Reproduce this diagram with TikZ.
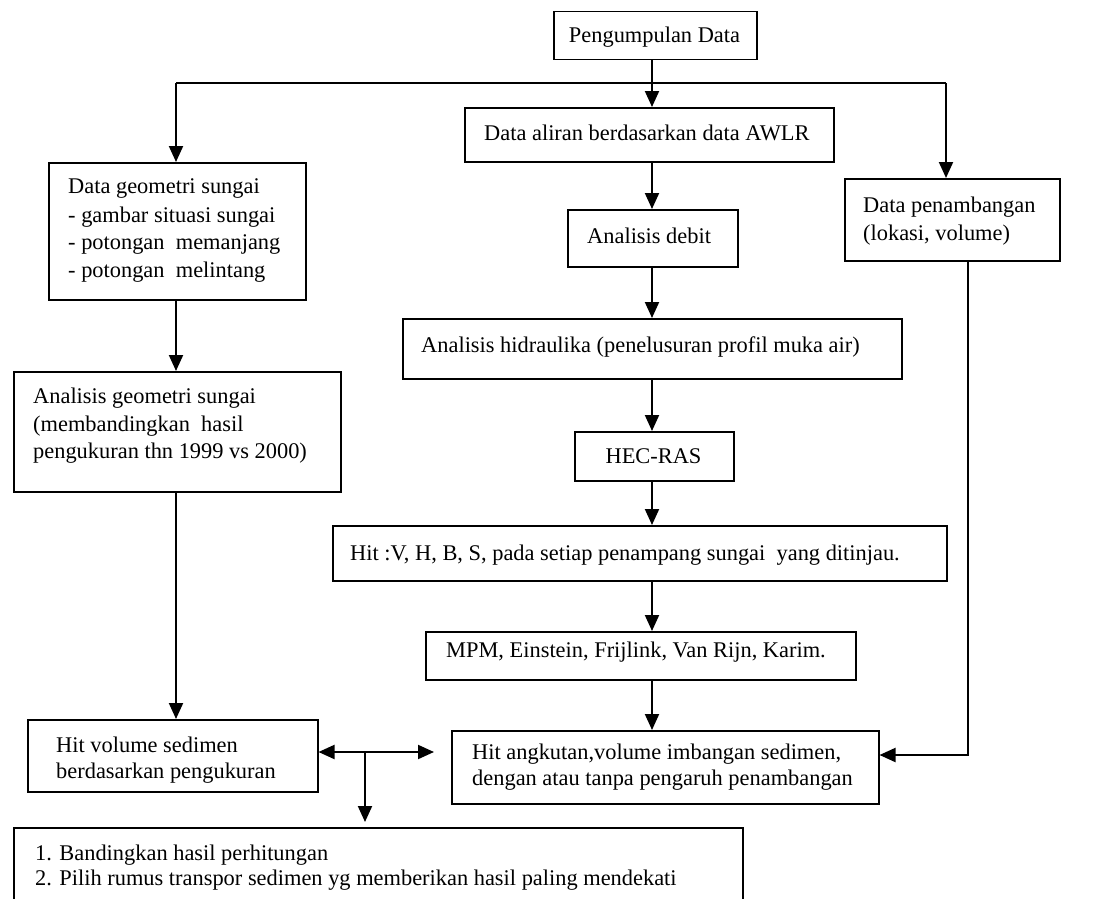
\documentclass[tikz,border=0pt]{standalone}
\usepackage{fontspec}
\setmainfont{Liberation Serif}
\usetikzlibrary{arrows.meta}
\begin{document}
\begin{tikzpicture}[x=1pt,y=-1pt,
  box/.style={draw, line width=1.5pt, inner sep=0pt, anchor=north west},
  txt/.style={inner sep=0pt, anchor=base west, font=\fontsize{22.4}{28}\selectfont},
  ctxt/.style={txt, anchor=base},
  conn/.style={line width=2pt},
  tip/.tip={Triangle[width=14pt,length=16pt]},
  arr/.style={conn, -tip}]
\clip (0,0) rectangle (1116,899);
\fill[white] (0,0) rectangle (1116,899);
% boxes
\node[box, minimum width=203pt, minimum height=48pt] (pd) at (553,11) {};
\node[box, minimum width=369pt, minimum height=54pt] (da) at (464,107) {};
\node[box, minimum width=257pt, minimum height=137pt] (dg) at (48,162) {};
\node[box, minimum width=215pt, minimum height=82pt] (pen) at (844,178) {};
\node[box, minimum width=170pt, minimum height=57pt] (ad) at (567,209) {};
\node[box, minimum width=499pt, minimum height=60pt] (ah) at (402,318) {};
\node[box, minimum width=327pt, minimum height=120pt] (ag) at (13,371) {};
\node[box, minimum width=159pt, minimum height=49pt] (hec) at (574,431) {};
\node[box, minimum width=614pt, minimum height=55pt] (hit) at (332,525) {};
\node[box, minimum width=430pt, minimum height=48pt] (mpm) at (425,631) {};
\node[box, minimum width=290pt, minimum height=72pt] (hv) at (27,719) {};
\node[box, minimum width=427pt, minimum height=73pt] (ha) at (451,730) {};
\node[box, minimum width=729pt, minimum height=100pt] (bt) at (13,827) {};
% texts
\node[ctxt] (pdt) at (654.5,43) {Pengumpulan Data};
\node[txt] (dat) at (484,140) {Data aliran berdasarkan data AWLR};
\node[txt] (dg1) at (68,193) {Data geometri sungai};
\node[txt] (dg2) at (68,222) {- gambar situasi sungai};
\node[txt] (dg3) at (68,249) {- potongan\ \ memanjang};
\node[txt] (dg4) at (68,277) {- potongan\ \ melintang};
\node[txt] (pe1) at (863,212) {Data penambangan};
\node[txt] (pe2) at (863,240) {(lokasi, volume)};
\node[txt] (adt) at (587,243) {Analisis debit};
\node[txt] (aht) at (421,352) {Analisis hidraulika (penelusuran profil muka air)};
\node[txt] (ag1) at (33,403) {Analisis geometri sungai};
\node[txt] (ag2) at (33,431) {(membandingkan\ \ hasil};
\node[txt] (ag3) at (33,458) {pengukuran thn 1999 vs 2000)};
\node[ctxt] (hect) at (653.5,463) {HEC-RAS};
\node[txt] (hitt) at (350,560) {Hit :V, H, B, S, pada setiap penampang sungai\ \ yang ditinjau.};
\node[txt] (mpmt) at (446,657) {MPM, Einstein, Frijlink, Van Rijn, Karim.};
\node[txt] (hv1) at (56,752) {Hit volume sedimen};
\begin{scope}
\clip (27,719) rectangle (317,782);
\node[txt] (hv2) at (56,778) {berdasarkan pengukuran};
\end{scope}
\node[txt] (ha1) at (472,759) {Hit angkutan,volume imbangan sedimen,};
\begin{scope}
\clip (451,730) rectangle (878,791);
\node[txt] (ha2) at (472,785) {dengan atau tanpa pengaruh penambangan};
\end{scope}
\node[txt] (bt1) at (35,860) {1. Bandingkan hasil perhitungan};
\node[txt] (bt2) at (35,885) {2. Pilih rumus transpor sedimen yg memberikan hasil paling mendekati};
% connectors
\coordinate (mx) at (652,83);
\coordinate (jl) at (176,83);
\coordinate (jr) at (946,83);
\draw[conn] (jl) -- (jr);
\draw[arr] (mx |- pd.south) -- (mx |- da.north);
\draw[arr] (jl) -- (jl |- dg.north);
\draw[arr] (jr) -- (jr |- pen.north);
\draw[arr] (mx |- da.south) -- (mx |- ad.north);
\draw[arr] (mx |- ad.south) -- (mx |- ah.north);
\draw[arr] (mx |- ah.south) -- (mx |- hec.north);
\draw[arr] (mx |- hec.south) -- (mx |- hit.north);
\draw[arr] (mx |- hit.south) -- (mx |- mpm.north);
\draw[arr] (mx |- mpm.south) -- (mx |- ha.north);
\draw[arr] (jl |- dg.south) -- (jl |- ag.north);
\draw[arr] (jl |- ag.south) -- (jl |- hv.north);
\coordinate (rt) at (968,755);
\draw[arr] (rt |- pen.south) -- (rt) -- (rt -| ha.east);
\coordinate (dm) at (365,752);
\coordinate (dr) at (434,752);
\draw[conn, tip-tip] (dm -| hv.east) -- (dr);
\draw[arr, shorten >=5pt] (dm) -- (dm |- bt.north);
\end{tikzpicture}
\end{document}
